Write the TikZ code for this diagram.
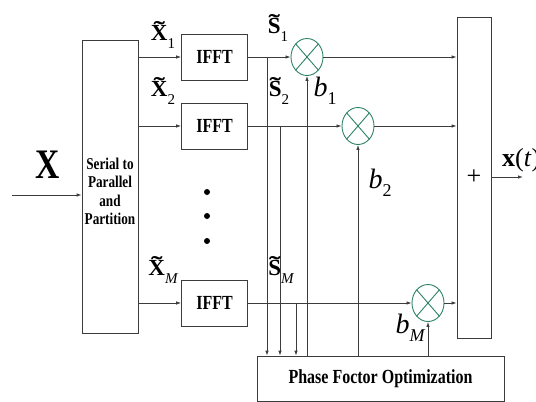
\documentclass[tikz,border=0pt]{standalone}
\usepackage{fontspec}
\setmainfont{Liberation Serif}
\newfontfamily\blocfont[FakeStretch=0.8]{Liberation Serif}
\usepackage{graphicx}
\usepackage{tikz}
\usetikzlibrary{arrows.meta, positioning, shapes.geometric}
\definecolor{vertmult}{RGB}{45,130,105}
\definecolor{trait}{RGB}{60,60,60}
\newcommand{\tld}[1]{\ooalign{\hfil\raisebox{0.13em}{\scalebox{1.5}[1]{\bfseries\char"02DC}}\hfil\cr#1\cr}}
\newcommand{\sig}[2]{\tld{\bfseries #1}\raisebox{-0.35em}{\fontsize{15}{15}\selectfont #2}}
\newcommand{\coefb}[1]{b\raisebox{-0.3em}{\fontsize{18}{18}\selectfont #1}}

\begin{document}
\begin{tikzpicture}[x=1pt, y=-1pt,
  bloc/.style={draw=trait, line width=0.8pt, font=\blocfont\bfseries\fontsize{20}{22}\selectfont},
  mult/.style={ellipse, draw=vertmult, line width=0.9pt, minimum width=32pt, minimum height=37pt, inner sep=0pt,
    path picture={\draw[vertmult, line width=0.9pt] (path picture bounding box.north west) -- (path picture bounding box.south east)
      (path picture bounding box.north east) -- (path picture bounding box.south west);}},
  fl/.style={draw=trait, line width=0.8pt, -{Latex[length=5pt,width=3.5pt]}},
  lab/.style={font=\fontsize{23}{24}\selectfont, inner sep=0pt},
  coef/.style={font=\itshape\fontsize{28}{28}\selectfont, inner sep=0pt}]
  \useasboundingbox (0,0) rectangle (536,402);
  % Blocs
  \node[bloc, minimum width=56pt, minimum height=293pt] (sp) at (110,186.5) {};
  \node[font=\blocfont\bfseries\fontsize{16.5}{18.5}\selectfont, align=center, yshift=-5pt] (sptxt) at (sp) {Serial to\\Parallel\\and\\Partition};
  \node[bloc, minimum width=66pt, minimum height=46pt] (ifft1) at (214.5,57) {IFFT};
  \node[bloc, minimum width=66pt, minimum height=46pt] (ifft2) at (214.5,126) {IFFT};
  \node[bloc, minimum width=66pt, minimum height=46pt] (ifftM) at (214.5,303) {IFFT};
  \node[mult] (m1) at (307,57) {};
  \node[mult] (m2) at (358,126) {};
  \node[mult] (mM) at (428,303) {};
  \node[bloc, minimum width=34pt, minimum height=321pt, font=\fontsize{26}{26}\selectfont] (som) at (474,177.5) {+};
  \node[bloc, minimum width=247pt, minimum height=45pt] (phase) at (380.5,378.5) {Phase Foctor Optimization};
  \coordinate (entree) at (12,195);
  \coordinate (sortie) at (523,177);
  \coordinate (p1) at (267,57);
  \coordinate (p2) at (280,126);
  \coordinate (pM) at (296,303);
  % Liaisons
  \draw[fl] (entree) -- (sp.west |- entree);
  \foreach \k in {1,2,M} {
    \draw[fl] (sp.east |- ifft\k) -- (ifft\k);
    \draw[fl] (ifft\k) -- (m\k);
    \draw[fl] (m\k) -- (som.west |- m\k);
    \draw[fl] (p\k) -- (p\k |- phase.north);
    \draw[fl] (m\k.south |- phase.north) -- (m\k.south);
  }
  \draw[fl] (som.east |- sortie) -- (sortie);
  \foreach \y in {192,216,241} \fill (207,\y) circle (3pt);
  % Etiquettes
  \node[font=\blocfont\bfseries\fontsize{42}{42}\selectfont] (X) at (48,165) {X};
  \node[lab] (x1) at (163,35) {\sig{X}{1}};
  \node[lab] (x2) at (163,91) {\sig{X}{2}};
  \node[lab] (xM) at (163,270) {\sig{X}{\itshape M}};
  \node[lab] (s1) at (278,28) {\sig{S}{1}};
  \node[lab] (s2) at (279,91) {\sig{S}{2}};
  \node[lab] (sM) at (281,270) {\sig{S}{\itshape M}};
  \node[coef] (b1) at (325,91) {\coefb{\upshape 1}};
  \node[coef] (b2) at (380,183) {\coefb{\upshape 2}};
  \node[coef] (bM) at (410,328) {\coefb{M}};
  \node[font=\fontsize{26}{26}\selectfont, anchor=west, inner sep=0pt] (xt) at (502,160) {\textbf{x}(\textit{t})};
\end{tikzpicture}
\end{document}
